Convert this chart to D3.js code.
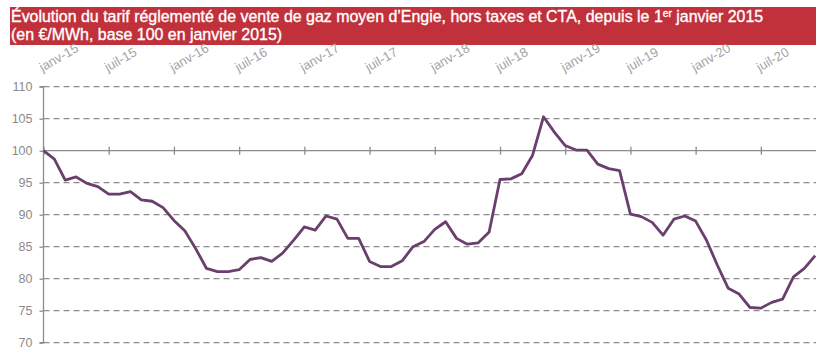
<!DOCTYPE html>
<html><head><meta charset="utf-8">
<script src="https://cdn.jsdelivr.net/npm/d3@7"></script>
<style>body{margin:0;background:#fff}svg{display:block}</style>
</head><body>
<svg id="c" width="824" height="362"></svg>
<script>
const months = ["janv-15","févr-15","mars-15","avr-15","mai-15","juin-15","juil-15","août-15","sept-15","oct-15","nov-15","déc-15",
"janv-16","févr-16","mars-16","avr-16","mai-16","juin-16","juil-16","août-16","sept-16","oct-16","nov-16","déc-16",
"janv-17","févr-17","mars-17","avr-17","mai-17","juin-17","juil-17","août-17","sept-17","oct-17","nov-17","déc-17",
"janv-18","févr-18","mars-18","avr-18","mai-18","juin-18","juil-18","août-18","sept-18","oct-18","nov-18","déc-18",
"janv-19","févr-19","mars-19","avr-19","mai-19","juin-19","juil-19","août-19","sept-19","oct-19","nov-19","déc-19",
"janv-20","févr-20","mars-20","avr-20","mai-20","juin-20","juil-20","août-20","sept-20","oct-20","nov-20","déc-20"];
const values = [100,98.7,95.4,95.9,94.9,94.4,93.2,93.2,93.6,92.3,92.1,91.1,
89.1,87.5,84.7,81.6,81.1,81.1,81.4,83.0,83.3,82.7,84.0,86.0,
88.1,87.6,89.8,89.3,86.3,86.3,82.7,81.9,81.9,82.8,85.0,85.8,
87.7,88.9,86.3,85.4,85.6,87.3,95.5,95.6,96.4,99.3,105.3,102.9,
100.8,100.1,100.1,97.9,97.2,96.9,90.1,89.7,88.8,86.8,89.3,89.8,
89.0,86.0,82.1,78.5,77.6,75.5,75.4,76.3,76.8,80.3,81.6,83.6];
const tickLabels = ["janv-15","juil-15","janv-16","juil-16","janv-17","juil-17","janv-18","juil-18","janv-19","juil-19","janv-20","juil-20"];
const yTicks = [70,75,80,85,90,95,100,105,110];
const titleLine1 = "Évolution du tarif réglementé de vente de gaz moyen d’Engie, hors taxes et CTA, depuis le 1";
const titleSup = "er";
const titleLine1b = " janvier 2015";
const titleLine2 = "(en €/MWh, base 100 en janvier 2015)";

const svg = d3.select("#c");
const FONT = "'Liberation Sans', Arial, sans-serif";
const left = 43.5, right = 815.2;
const x = d3.scalePoint().domain(months).range([left, right]);
const y = d3.scaleLinear().domain([70,110]).range([342.7, 86.7]);

// title bar
svg.append("rect").attr("x",10).attr("y",7).attr("width",806).attr("height",38).attr("fill","#c1313b");
const tg = svg.append("g").attr("fill","#fff").attr("stroke","#fff").attr("stroke-width",0.35)
  .style("font-family",FONT);
const t1 = tg.append("text").attr("x",11).attr("y",21.5).style("font-size","14px");
t1.append("tspan").text(titleLine1);
t1.append("tspan").attr("dy",-5).style("font-size","9px").text(titleSup);
t1.append("tspan").attr("dy",5).text(titleLine1b);
const t2 = tg.append("text").attr("x",11).attr("y",39.5).style("font-size","14px").text(titleLine2);
// fit to reference width
const w1 = t1.node().getComputedTextLength();
const k = 753 / w1;
const fs = 14 * k;
t1.style("font-size", fs + "px"); t1.select("tspan:nth-child(2)").style("font-size", (9*k)+"px");
t2.style("font-size", fs + "px");

// gridlines
svg.append("g").selectAll("line").data(yTicks.filter(d=>d!==100)).join("line")
  .attr("x1",left).attr("x2",816).attr("y1",d=>y(d)).attr("y2",d=>y(d))
  .attr("stroke","#8c8c8c").attr("stroke-width",1.3).attr("stroke-dasharray","6,4");

// y axis
const yAxis = svg.append("g").attr("transform",`translate(${left},0)`)
  .call(d3.axisLeft(y).tickValues(yTicks).tickSize(4).tickPadding(7));
yAxis.select(".domain").attr("stroke","#8c8c8c").attr("stroke-width",1.3).attr("d",`M-4,${y(110)}H0V${y(70)}H-4`);
yAxis.selectAll(".tick line").attr("stroke","#8c8c8c").attr("stroke-width",1.3);
yAxis.selectAll("text").attr("fill","#8a8a8a").style("font-family",FONT).style("font-size","12.5px");

// x axis at 100
const xAxis = svg.append("g").attr("transform",`translate(0,${y(100)})`)
  .call(d3.axisBottom(x).tickValues(tickLabels).tickSize(0).tickFormat(""));
xAxis.select(".domain").attr("stroke","#8c8c8c").attr("stroke-width",1.3).attr("d",`M${left},0H816`);
xAxis.selectAll(".tick line").attr("y1",-4).attr("y2",4).attr("stroke","#8c8c8c").attr("stroke-width",1.3);
// x tick labels at top, rotated
svg.append("g").selectAll("text").data(tickLabels).join("text")
  .attr("transform",d=>`translate(${x(d)-1},${72}) rotate(-30)`)
  .attr("fill","#a3a3a3").style("font-family",FONT).style("font-size","13px")
  .text(d=>d);

// line
svg.append("path").datum(values)
  .attr("fill","none").attr("stroke","#6a3e6d").attr("stroke-width",2.8).attr("stroke-linejoin","round")
  .attr("d", d3.line().x((d,i)=>x(months[i])).y(d=>y(d)));
</script>
</body></html>
